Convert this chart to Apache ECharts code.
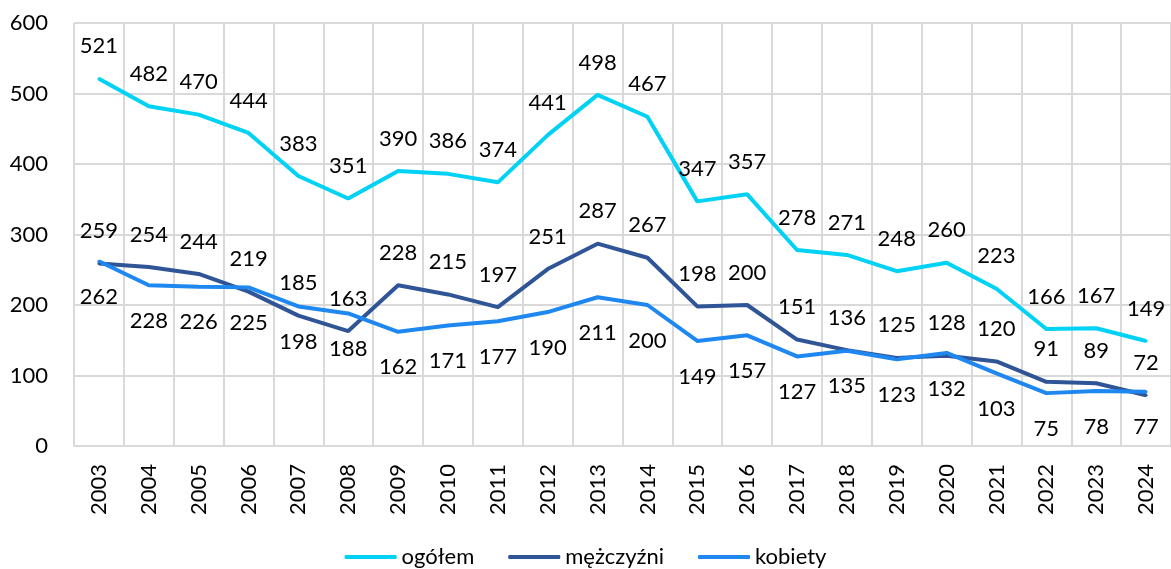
<!DOCTYPE html>
<html>
<head>
<meta charset="utf-8">
<script src="https://cdn.jsdelivr.net/npm/echarts@6/dist/echarts.min.js"></script>
<style>
  html, body { margin: 0; padding: 0; background: #fff; }
  #chart { width: 1171px; height: 569px; }
</style>
</head>
<body>
<div id="chart"></div>
<script>
const years = ['2003', '2004', '2005', '2006', '2007', '2008', '2009', '2010', '2011', '2012', '2013',
  '2014', '2015', '2016', '2017', '2018', '2019', '2020', '2021', '2022', '2023', '2024']
const ogolem = [521, 482, 470, 444, 383, 351, 390, 386, 374, 441, 498, 467, 347, 357, 278, 271, 248, 260, 223, 166, 167, 149]
const mezczyzni = [259, 254, 244, 219, 185, 163, 228, 215, 197, 251, 287, 267, 198, 200, 151, 136, 125, 128, 120, 91, 89, 72]
const kobiety = [262, 228, 226, 225, 198, 188, 162, 171, 177, 190, 211, 200, 149, 157, 127, 135, 123, 132, 103, 75, 78, 77]

const font = 'Lato'

function line(name, data, color, pos, dist) {
  return {
    name: name,
    type: 'line',
    data: data,
    // tiny symbol so the labels still get drawn
    symbol: 'circle',
    symbolSize: 3,
    showSymbol: true,
    lineStyle: { width: 4, color: color },
    itemStyle: { color: color },
    labelLayout: { hideOverlap: false },
    label: {
      show: true,
      position: pos,
      distance: dist,
      color: '#000',
      fontSize: 22,
      fontFamily: font
    }
  }
}

let chart = echarts.init(document.getElementById('chart'))
chart.setOption({
  animation: false,
  grid: {
    left: 74,
    right: 0,
    top: 23,
    bottom: 123
  },
  legend: {
    bottom: -4,
    itemWidth: 52,
    itemHeight: 4,
    itemGap: 34,
    icon: 'roundRect',
    textStyle: { fontSize: 22, fontFamily: font, color: '#000' }
  },
  xAxis: {
    type: 'category',
    data: years,
    boundaryGap: true,
    axisLine: { lineStyle: { color: '#d9d9d9', width: 2 } },
    axisTick: { show: false },
    splitLine: { show: true, interval: 0, lineStyle: { color: '#d9d9d9', width: 2 } },
    axisLabel: {
      rotate: 90,
      interval: 0,
      margin: 18,
      color: '#000',
      fontSize: 22,
      fontFamily: font
    }
  },
  yAxis: {
    type: 'value',
    min: 0,
    max: 600,
    interval: 100,
    axisLine: { show: false },
    axisTick: { show: false },
    splitLine: { lineStyle: { color: '#d9d9d9', width: 2 } },
    axisLabel: {
      margin: 26,
      color: '#000',
      fontSize: 22,
      fontFamily: font
    }
  },
  series: [
    line('ogółem', ogolem, '#00d2f5', 'top', 20),
    line('mężczyźni', mezczyzni, '#2f5597', 'top', 20),
    line('kobiety', kobiety, '#1e88f0', 'bottom', 23)
  ]
})
</script>
</body>
</html>
